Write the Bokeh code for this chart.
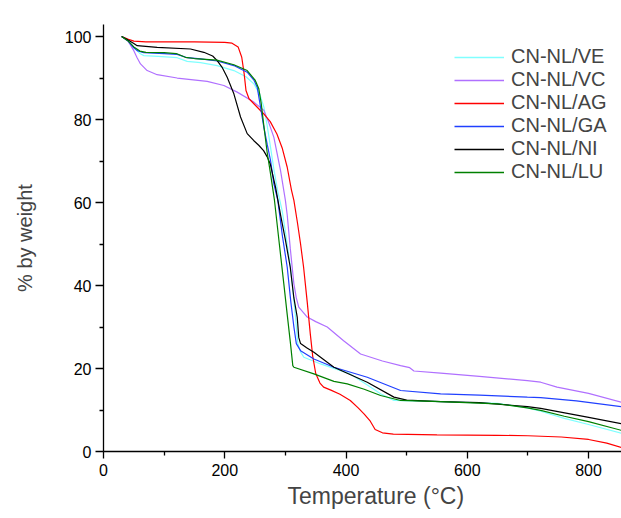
from bokeh.plotting import figure
from bokeh.models import Range1d, Title, FixedTicker, Legend, LegendItem
from bokeh.embed import file_html
from bokeh.resources import INLINE

# ---- data (temperature in °C, residual weight in %) ----
ve_t = [30, 40, 50, 60, 66.5, 90, 121.5, 138, 160, 187.5, 215, 235, 248, 258, 264.5, 270, 275.5, 281, 287, 294.7, 300, 308.4, 316.7, 320.5, 325, 330.4, 358, 407, 430, 457, 479, 556, 650, 699, 721, 760, 800, 854]
ve_w = [100, 99.2, 97.4, 95.9, 95.4, 95.2, 94.9, 94.0, 93.7, 93.0, 91.8, 90.3, 88.6, 86, 83, 78.5, 73.3, 68, 63, 58, 53, 44.4, 32.4, 26, 24, 22.7, 21.1, 18.7, 16.5, 13.9, 12.3, 12.0, 11.6, 10.5, 9.7, 8.0, 6.5, 4.4]

vc_t = [30, 40, 50, 55, 61, 72, 88.5, 121.5, 171, 198.5, 220.5, 248, 264.5, 272, 281, 292, 300, 303, 308, 314, 318, 322, 336, 350, 369, 396, 424, 460, 490, 505, 512, 556, 620, 699, 721, 748, 800, 854]
vc_w = [100, 99.0, 96.6, 95.0, 93.4, 91.8, 90.8, 90.0, 89.2, 88.2, 86.6, 84.2, 82.2, 79.5, 75.7, 67.7, 60.5, 57, 49, 40.4, 37, 34.8, 32.4, 31.3, 30, 26.7, 23.5, 21.8, 20.7, 20.2, 19.4, 18.9, 18.1, 17.1, 16.7, 15.5, 14.0, 11.9]

ag_t = [30, 40, 50, 70, 100, 150, 200, 212, 222, 228, 232, 235, 240, 250, 264, 275, 286, 295, 303, 310, 314, 320, 325, 330, 336, 341, 345, 350, 357, 363, 375, 390, 407, 420, 430, 440, 448, 460, 478, 550, 650, 700, 755, 800, 830, 854]
ag_w = [100, 99.4, 98.9, 98.7, 98.7, 98.7, 98.6, 98.4, 97.5, 95, 91, 87, 85, 83.5, 81.4, 79.5, 76.5, 73, 68.5, 63, 60.5, 55, 50, 44.4, 36, 28.4, 23, 18.8, 16.5, 15.5, 14.8, 13.8, 12.3, 10.5, 9, 7.3, 5.3, 4.5, 4.2, 4.0, 3.9, 3.8, 3.5, 2.9, 2.0, 1.0]

ga_t = [30, 40, 50, 55.5, 66.5, 100, 121.5, 138, 160, 187.5, 215, 237, 248, 253.5, 259, 264.5, 270, 275.5, 281, 287.5, 295, 303, 309, 314, 318, 325, 347, 380, 435, 490, 556, 620, 699, 721, 780, 854]
ga_w = [100, 99.0, 97.3, 96.6, 96.1, 95.9, 95.7, 94.9, 94.6, 94.1, 93.0, 91.4, 89.5, 87.8, 83, 78.1, 74, 70.1, 64.5, 60.5, 52, 44.4, 36, 30, 26, 24.3, 22.3, 20.3, 17.9, 14.7, 13.9, 13.6, 13.1, 13.0, 12.2, 10.8]

ni_t = [30, 40, 50, 55.5, 88.5, 143.5, 165.5, 180, 187.5, 196, 204, 215, 226, 237, 248, 256, 264, 270, 275, 283.7, 292, 300, 308, 314, 319.5, 322, 325, 335, 347, 380, 435, 479, 500, 556, 620, 699, 721, 798, 854]
ni_w = [100, 99.2, 98.3, 97.8, 97.4, 97.0, 96.2, 95.3, 94.2, 92.5, 90.2, 86.2, 80.6, 76.6, 74.9, 73.8, 72.5, 71, 69.3, 63.7, 57, 51, 44.4, 37, 32.4, 27.5, 26, 25, 23.9, 20.3, 16.7, 13.1, 12.4, 12.0, 11.8, 10.8, 10.4, 8.3, 6.7]

lu_t = [30, 40, 50, 60, 70, 100, 120, 135, 150, 187, 215, 237, 250, 256, 260, 264, 270, 275.5, 282, 290, 297.4, 303, 308.4, 312.2, 314, 347, 380, 402, 430, 457, 490, 556, 650, 699, 721, 760, 800, 854]
lu_w = [100, 99.0, 97.5, 96.5, 96.2, 96.1, 95.9, 95.0, 94.7, 94.3, 93.2, 91.8, 89.5, 87.5, 84, 79, 72, 66.9, 60.5, 50, 40.4, 33, 26, 20.7, 20.3, 18.7, 16.9, 16.3, 15, 13.5, 12.3, 12.0, 11.5, 10.5, 9.9, 8.5, 7.2, 5.1]

names = ["CN-NL/VE", "CN-NL/VC", "CN-NL/AG", "CN-NL/GA", "CN-NL/NI", "CN-NL/LU"]
temps = [ve_t, vc_t, ag_t, ga_t, ni_t, lu_t]
weights = [ve_w, vc_w, ag_w, ga_w, ni_w, lu_w]
colors = ["#80FFFF", "#B070FF", "#FF0000", "#2040FF", "#000000", "#008000"]

x_ticks = [0, 200, 400, 600, 800]
x_minor = [100, 300, 500, 700]
y_ticks = [0, 20, 40, 60, 80, 100]
y_minor = [10, 30, 50, 70, 90]

FONT = "Liberation Sans"

p = figure(frame_width=518, frame_height=427,
           min_border_left=103, min_border_right=0, min_border_top=24, min_border_bottom=67,
           x_range=Range1d(0, 854.3), y_range=Range1d(0, 102.9),
           output_backend="svg", toolbar_location=None)
p.outline_line_color = None
p.grid.visible = False
p.background_fill_color = "white"
p.border_fill_color = "white"

items = []
for name, t, w, c in zip(names, temps, weights, colors):
    p.line(t, w, line_color=c, line_width=1.2)
    key = p.line([float("nan")], [float("nan")], line_color=c, line_width=1.6)
    items.append(LegendItem(label=name, renderers=[key]))

# axes
p.xaxis.ticker = FixedTicker(ticks=x_ticks, minor_ticks=x_minor)
p.yaxis.ticker = FixedTicker(ticks=y_ticks, minor_ticks=y_minor)
for ax in (p.xaxis[0], p.yaxis[0]):
    ax.axis_line_width = 1.3
    ax.major_tick_line_width = 1.3
    ax.minor_tick_line_width = 1.3
    ax.major_tick_in = 0
    ax.minor_tick_in = 0
    ax.minor_tick_out = 4
    ax.major_label_text_font = FONT
    ax.major_label_text_font_size = "16px"
    ax.major_label_text_color = "black"
    ax.axis_label_text_font = FONT
    ax.axis_label_text_font_size = "20px"
    ax.axis_label_text_font_style = "normal"
p.xaxis.major_tick_out = 7
p.yaxis.major_tick_out = 8
p.xaxis.major_label_standoff = 5
p.yaxis.major_label_standoff = 4
p.yaxis.axis_label = "% by weight"
p.yaxis.axis_label_standoff = 26

p.add_layout(Title(text="Temperature (°C)", align="left", offset=184,
                   text_font=FONT, text_font_size="23px", text_font_style="normal",
                   standoff=5), "below")

lg = Legend(items=items, location=(351, 268))
lg.padding = 0
lg.margin = 0
lg.spacing = 0
lg.label_height = 20
lg.glyph_height = 20
lg.glyph_width = 50
lg.label_standoff = 7
lg.label_text_font = FONT
lg.label_text_font_size = "20px"
lg.border_line_alpha = 0
lg.background_fill_alpha = 0
p.add_layout(lg, "center")

open("out.html", "w").write(file_html(p, INLINE))
